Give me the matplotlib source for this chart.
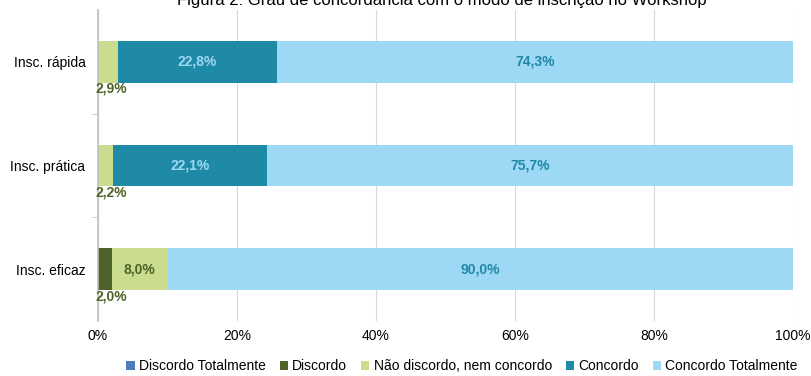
import matplotlib.pyplot as plt
import numpy as np

plt.rcParams['font.family'] = ['Liberation Sans', 'DejaVu Sans']

categories = ["Insc. rápida", "Insc. prática", "Insc. eficaz"]
series = ["Discordo Totalmente", "Discordo", "Não discordo, nem concordo",
          "Concordo", "Concordo Totalmente"]
disc_total = [0.0, 0.0, 0.0]
discordo = [0.0, 0.0, 2.0]
neutro = [2.9, 2.2, 8.0]
concordo = [22.8, 22.1, 0.0]
conc_total = [74.3, 75.7, 90.0]

colors = ["#4a7ebb", "#4f6228", "#cadc8e", "#1f8aa5", "#9dd8f5"]
label_colors = [None, "#4f6228", "#4f6228", "#9dd8f5", "#1f8aa5"]

fig = plt.figure(figsize=(8.11, 3.76), dpi=100)
ax = fig.add_axes([98 / 811, 1 - 321 / 376, 695 / 811, 311 / 376])

y = np.arange(len(categories))
left = np.zeros(len(categories))
data = [disc_total, discordo, neutro, concordo, conc_total]
for name, vals, col, lc in zip(series, data, colors, label_colors):
    vals = np.array(vals)
    ax.barh(y, vals, left=left, height=0.4, color=col, label=name, zorder=2)
    for i, v in enumerate(vals):
        if v <= 0:
            continue
        txt = f"{v:.1f}%".replace(".", ",")
        if v < 5:
            # small segments: label below the bar, at the left
            ax.text(left[i] - 0.3, y[i] + 0.26, txt, ha="left", va="center",
                    fontsize=10, fontweight="bold", color=lc)
        else:
            ax.text(left[i] + v / 2, y[i], txt, ha="center", va="center",
                    fontsize=10, fontweight="bold", color=lc)
    left += vals

ax.set_xlim(0, 100)
ax.set_ylim(2.5, -0.5)
ax.set_xticks(np.arange(0, 101, 20))
ax.set_xticklabels([f"{t}%" for t in range(0, 101, 20)], fontsize=10)
ax.set_yticks(y)
ax.set_yticklabels(categories, fontsize=10)
ax.set_yticks([0.5, 1.5], minor=True)
ax.tick_params(axis="y", which="major", length=0, pad=9)
ax.tick_params(axis="y", which="minor", length=4, color="#bfbfbf")
ax.tick_params(axis="x", length=0, pad=6)
ax.grid(axis="x", color="#d9d9d9", linewidth=0.8, zorder=0)
for s in ["top", "right", "bottom"]:
    ax.spines[s].set_visible(False)
ax.spines["left"].set_color("#bfbfbf")
ax.spines["left"].set_linewidth(1.2)

ax.legend(loc="center", bbox_to_anchor=(462 / 811, 10 / 376),
          bbox_transform=fig.transFigure, ncol=5, frameon=False,
          fontsize=10, handlelength=0.6, handleheight=0.6,
          handletextpad=0.3, columnspacing=1.0)

fig.text(0.545, 1.0, "Figura 2: Grau de concordância com o modo de inscrição no Workshop",
         ha="center", va="center", fontsize=12)

fig.savefig("out.png", dpi=100)
